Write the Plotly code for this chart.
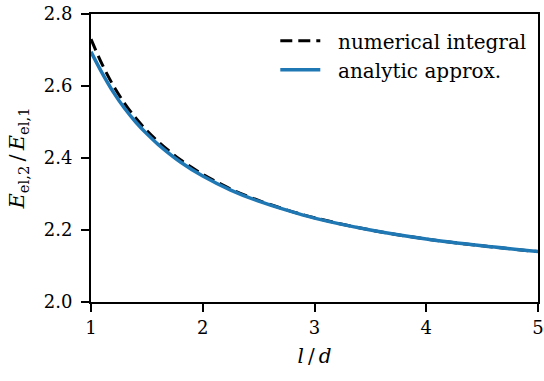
import plotly.graph_objects as go

# Values
x_num = [1.0, 1.1, 1.2, 1.3, 1.4, 1.5, 1.6, 1.8, 2.0, 2.25, 2.5, 2.75, 3.0, 3.5, 4.0, 4.5, 5.0]
y_num = [2.730, 2.660, 2.601, 2.552, 2.511, 2.476, 2.446, 2.395, 2.355, 2.314, 2.282, 2.256, 2.234, 2.200, 2.175, 2.156, 2.140]

x_ana = [1.0, 1.1, 1.2, 1.3, 1.4, 1.5, 1.6, 1.8, 2.0, 2.25, 2.5, 2.75, 3.0, 3.5, 4.0, 4.5, 5.0]
y_ana = [2.695, 2.636, 2.583, 2.538, 2.500, 2.467, 2.438, 2.389, 2.350, 2.311, 2.280, 2.255, 2.233, 2.200, 2.175, 2.156, 2.140]

x_ticks = [1, 2, 3, 4, 5]
y_ticks = [2.0, 2.2, 2.4, 2.6, 2.8]

FONT = "DejaVu Serif"
NB = "\u00a0\u00a0"

fig = go.Figure()
fig.add_trace(go.Scatter(x=x_num, y=y_num, mode="lines", name=NB + "numerical integral",
                         line=dict(color="black", width=3, dash="12px,6px", shape="spline")))
fig.add_trace(go.Scatter(x=x_ana, y=y_ana, mode="lines", name=NB + "analytic approx.",
                         line=dict(color="#1f77b4", width=3.5, shape="spline")))

axis_common = dict(showgrid=False, zeroline=False, showline=True, linecolor="black",
                   linewidth=2, mirror=True, ticks="outside", ticklen=8, tickwidth=2,
                   tickcolor="black", automargin=False, ticklabeloverflow="allow",
                   tickfont=dict(family=FONT, size=18, color="black"))

fig.update_xaxes(range=[1, 5], tickvals=x_ticks, ticktext=[str(v) for v in x_ticks],
                 title=dict(text="<i>l</i>\u2009/\u2009<i>d</i>",
                            font=dict(family=FONT, size=20, color="black"), standoff=12),
                 **axis_common)
fig.update_yaxes(range=[2.0, 2.8], tickvals=y_ticks, ticktext=[f"{v:.1f}" for v in y_ticks],
                 ticklabelstandoff=5,
                 title=dict(text="<i>E</i><sub>el,2</sub>\u2009/\u2009<i>E</i><sub>el,1</sub>",
                            font=dict(family=FONT, size=21, color="black"), standoff=13),
                 **axis_common)

fig.update_layout(
    width=544, height=381,
    margin=dict(l=91, r=6, t=14, b=79),
    plot_bgcolor="white", paper_bgcolor="white",
    font=dict(family=FONT, size=18, color="black"),
    legend=dict(x=0.985, y=0.975, xanchor="right", yanchor="top", bgcolor="rgba(0,0,0,0)",
                font=dict(family=FONT, size=20, color="black"), itemwidth=40,
                tracegroupgap=0),
)

# remove the browser's default 8px body margin so the figure fills the window exactly
fig.write_html("out.html", config={"displayModeBar": False},
               post_script="document.body.style.margin='0';document.body.style.overflow='hidden';")
